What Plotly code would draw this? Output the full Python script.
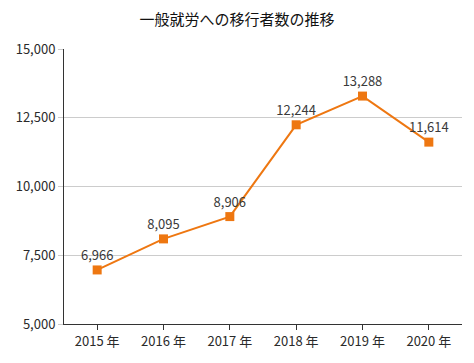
import plotly.graph_objects as go

years = ["2015 年", "2016 年", "2017 年", "2018 年", "2019 年", "2020 年"]
values = [6966, 8095, 8906, 12244, 13288, 11614]
y_ticks = [5000, 7500, 10000, 12500, 15000]
y_tick_labels = ["5,000", "7,500", "10,000", "12,500", "15,000"]
title = "一般就労への移行者数の推移"

font = "Noto Sans CJK JP, Noto Sans, sans-serif"
orange = "#EE7711"

fig = go.Figure()
fig.add_trace(go.Scatter(
    x=years, y=values, mode="lines+markers+text",
    line=dict(color=orange, width=2),
    marker=dict(symbol="square", size=9, color=orange),
    text=[f"{v:,}" for v in values],
    textposition="top center",
    textfont=dict(family=font, size=13, color="#3a3a3a"),
    hoverinfo="skip",
))

fig.update_layout(
    template="none",
    width=474, height=363,
    margin=dict(l=64, r=12, t=49, b=39, autoexpand=False),
    paper_bgcolor="white", plot_bgcolor="white",
    showlegend=False,
    title=dict(text=title, x=0.5, xanchor="center", xref="container",
               y=1 - 20 / 363, yref="container",
               yanchor="middle", automargin=False,
               font=dict(family=font, size=15, color="#111111")),
    font=dict(family=font, size=13, color="#333333"),
)
fig.update_xaxes(
    type="category", range=[-0.5, 5.5], automargin=False,
    showline=True, linecolor="#333333", linewidth=1,
    ticks="outside", ticklen=5, tickcolor="#333333",
    showgrid=False,
    tickfont=dict(family=font, size=13, color="#2a2a2a"),
)
fig.update_yaxes(
    range=[5000, 15000], tickvals=y_ticks, ticktext=y_tick_labels, automargin=False,
    showline=True, linecolor="#333333", linewidth=1,
    ticks="outside", ticklen=5, tickcolor="#cccccc",
    showgrid=True, gridcolor="#cccccc", gridwidth=1,
    zeroline=False,
    tickfont=dict(family=font, size=13, color="#2a2a2a"),
)

fig.write_html(
    "out.html",
    config={"displayModeBar": False, "staticPlot": True},
    post_script="document.body.style.margin='0';document.body.style.overflow='hidden';",
)
